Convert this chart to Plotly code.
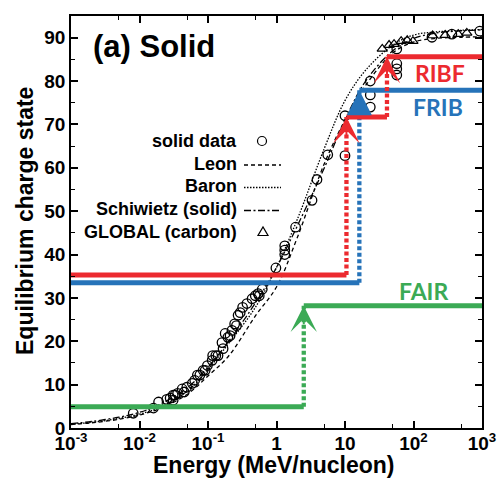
import numpy as np
import plotly.graph_objects as go

# ---------------- data ----------------
solid_E = [0.0081, 0.016, 0.019, 0.025, 0.031, 0.031, 0.036, 0.042, 0.049, 0.059,
           0.064, 0.076, 0.091, 0.098, 0.115, 0.117, 0.14, 0.166, 0.178, 0.195,
           0.224, 0.245, 0.275, 0.295, 0.32, 0.37, 0.44, 0.49, 0.54, 0.62,
           0.98, 1.32, 1.32, 1.32, 1.9, 3.3, 3.9, 5.6, 10.0, 10.0,
           23.4, 23.4, 23.4, 57, 57, 57, 57, 186, 363, 930,
           0.028, 0.033, 0.045, 0.07, 0.085, 0.13, 0.16, 0.21, 0.26, 0.56]
solid_Q = [3.4, 4.6, 6.0, 6.6, 6.4, 7.6, 8.0, 9.0, 9.4, 10.3,
           11.0, 12.2, 13.3, 14.4, 15.6, 16.7, 16.7, 18.3, 21.8, 20.9,
           22.5, 24.0, 26.0, 26.6, 27.8, 28.7, 29.8, 30.5, 31.0, 32.0,
           36.9, 40.0, 41.0, 42.0, 46.3, 52.5, 57.3, 63.0, 62.8, 72.0,
           74.0, 76.8, 80.0, 81.4, 82.8, 84.0, 87.4, 90.1, 90.8, 91.5,
           6.9, 7.6, 8.3, 12.2, 13.3, 16.7, 19.7, 21.3, 23.6, 30.5]

global_E = [35, 44, 52, 66, 81, 98, 190, 290, 450, 600]
global_Q = [87.4, 88.3, 88.5, 89.2, 89.4, 89.2, 90.5, 90.6, 90.8, 91.1]

curve_E = [0.001, 0.002, 0.005, 0.01, 0.02, 0.05, 0.1, 0.2, 0.5, 1, 2, 5,
           10, 20, 50, 100, 200, 500, 1000]
leon_Q = [0.8, 1.2, 2.0, 3.0, 4.5, 7.8, 12.0, 16.6, 26.0, 32.5, 43.8, 61.0,
          71.0, 79.0, 86.5, 89.0, 89.8, 90.1, 90.2]
baron_Q = [0.9, 1.3, 2.2, 3.2, 4.8, 8.5, 13.5, 19.5, 28.0, 37.0, 48.0, 64.5,
           75.5, 82.5, 88.3, 90.6, 91.3, 91.7, 91.9]
schiwietz_Q = [1.0, 1.5, 2.5, 3.6, 5.5, 9.3, 14.0, 20.0, 29.0, 37.0, 46.5, 60.0,
               71.0, 80.0, 87.0, 89.8, 91.0, 91.6, 91.8]

# facility staircases: energies of breaks and charge levels
RIBF_E = [0.001, 10.5, 41, 1000]
RIBF_Q = [35.3, 71.7, 85.6]
FRIB_E = [0.001, 16.2, 1000]
FRIB_Q = [33.5, 77.9]
FAIR_E = [0.001, 2.5, 1000]
FAIR_Q = [4.9, 28.2]

facility_names = ["RIBF", "FRIB", "FAIR"]
label_E = [244, 229, 141]
label_Q = [81.8, 74.0, 31.6]

x_tickvals = [1e-3, 1e-2, 1e-1, 1, 10, 100, 1000]
x_ticktext = ["10<sup>-3</sup>", "10<sup>-2</sup>", "10<sup>-1</sup>", "1", "10",
              "10<sup>2</sup>", "10<sup>3</sup>"]
x_minor = [0.005, 0.05, 0.5, 5, 50, 500]
y_tickvals = [0, 10, 20, 30, 40, 50, 60, 70, 80, 90]

legend_labels = ["solid data", "Leon", "Baron", "Schiwietz (solid)", "GLOBAL (carbon)"]

# ---------------- style ----------------
RED = "#EC2A2F"
BLUE = "#2673B9"
GREEN = "#3BAA55"
FONT = "Liberation Sans, Arial, sans-serif"
W, H = 499, 478
L, R, T, B = 71, 482, 16, 428


def pxx(x):
    return (x - L) / (R - L)


def pxy(y):
    return (B - y) / (B - T)


fig = go.Figure()

curve_styles = [(leon_Q, "4px,3px", 1.3), (baron_Q, "1.5px,1.5px", 1.3),
                (schiwietz_Q, "7px,2.5px,2px,2.5px", 1.3)]
for q, dash, w in curve_styles:
    fig.add_trace(go.Scatter(x=curve_E, y=q, mode="lines",
                             line=dict(color="black", width=w, dash=dash, shape="spline"),
                             showlegend=False, hoverinfo="skip"))

fig.add_trace(go.Scatter(x=solid_E, y=solid_Q, mode="markers",
                         marker=dict(symbol="circle-open", size=9.5, color="black",
                                     line=dict(width=1.3, color="black")),
                         showlegend=False))
fig.add_trace(go.Scatter(x=global_E, y=global_Q, mode="markers",
                         marker=dict(symbol="triangle-up-open", size=9, color="black",
                                     line=dict(width=1.2, color="black")),
                         showlegend=False))


def stair(E, Q, color, head, size):
    hx, hy, vx, vy = [], [], [], []
    for i, q in enumerate(Q):
        hx += [E[i], E[i + 1], None]
        hy += [q, q, None]
    for i in range(len(Q) - 1):
        vx += [E[i + 1], E[i + 1], None]
        vy += [Q[i], Q[i + 1], None]
    fig.add_trace(go.Scatter(x=vx, y=vy, mode="lines",
                             line=dict(color=color, width=4.3, dash="4px,2.5px"),
                             showlegend=False, hoverinfo="skip"))
    fig.add_trace(go.Scatter(x=hx, y=hy, mode="lines",
                             line=dict(color=color, width=5),
                             showlegend=False, hoverinfo="skip"))
    for i in range(len(Q) - 1):
        fig.add_annotation(x=np.log10(E[i + 1]), y=Q[i + 1], xref="x", yref="y",
                           ax=0, ay=20, showarrow=True, text="",
                           arrowhead=head, arrowsize=size, arrowwidth=2,
                           arrowcolor=color)


stair(FAIR_E, FAIR_Q, GREEN, 3, 2.2)
stair(FRIB_E, FRIB_Q, BLUE, 2, 2.5)
stair(RIBF_E, RIBF_Q, RED, 3, 2.2)

for name, e, q, c in zip(facility_names, label_E, label_Q, [RED, BLUE, GREEN]):
    fig.add_annotation(x=np.log10(e), y=q, xref="x", yref="y", text=name,
                       showarrow=False,
                       font=dict(family="Lato, Open Sans, sans-serif", size=23,
                                 color=c, weight="bold"))

# panel title
fig.add_annotation(x=pxx(91), y=pxy(47), xref="paper", yref="paper", text="(a) Solid",
                   showarrow=False, xanchor="left", yanchor="middle",
                   font=dict(family=FONT, size=31, color="black", weight="bold"))

# manual legend
leg_y = [141, 163.5, 186, 209, 231.5]
for lab, y in zip(legend_labels, leg_y):
    fig.add_annotation(x=pxx(239), y=pxy(y), xref="paper", yref="paper", text=lab,
                       showarrow=False, xanchor="right", yanchor="middle",
                       font=dict(family=FONT, size=18, color="black", weight="bold"))

shapes = []
shapes.append(dict(type="circle", xref="paper", yref="paper", xsizemode="pixel",
                   ysizemode="pixel", xanchor=pxx(262), yanchor=pxy(141),
                   x0=-4.5, x1=4.5, y0=-4.5, y1=4.5,
                   line=dict(color="black", width=1.2)))
for (y, dash) in [(165, "4px,3px"), (187.5, "1.5px,1.5px"), (210.5, "7px,2.5px,2px,2.5px")]:
    shapes.append(dict(type="line", xref="paper", yref="paper",
                       x0=pxx(244), x1=pxx(281), y0=pxy(y), y1=pxy(y),
                       line=dict(color="black", width=1.3, dash=dash)))
shapes.append(dict(type="path", xref="paper", yref="paper", xsizemode="pixel",
                   ysizemode="pixel", xanchor=pxx(263), yanchor=pxy(232),
                   path="M-5,-3.5 L5,-3.5 L0,5 Z",
                   line=dict(color="black", width=1.2)))

# axis titles
fig.add_annotation(x=pxx(274), y=pxy(465), xref="paper", yref="paper",
                   text="Energy (MeV/nucleon)", showarrow=False,
                   xanchor="center", yanchor="middle",
                   font=dict(family=FONT, size=23, color="black", weight="bold"))
fig.add_annotation(x=pxx(25), y=pxy(221), xref="paper", yref="paper",
                   text="Equilibrium charge state", showarrow=False, textangle=-90,
                   xanchor="center", yanchor="middle",
                   font=dict(family=FONT, size=23, color="black", weight="bold"))

axis_common = dict(showline=True, linecolor="black", linewidth=1.6, mirror="ticks",
                   ticks="inside", ticklen=7, tickwidth=1.5, tickcolor="black",
                   showgrid=False, zeroline=False, automargin=False,
                   tickfont=dict(family=FONT, size=19, color="black", weight="bold"))

fig.update_xaxes(type="log", range=[-3, 3], tickmode="array", tickvals=x_tickvals,
                 ticktext=x_ticktext, ticklabelstandoff=-3,
                 minor=dict(tickvals=x_minor, ticks="inside", ticklen=4,
                            tickwidth=1.3, tickcolor="black"),
                 **axis_common)
fig.update_yaxes(range=[0, 95], tickmode="array", tickvals=y_tickvals,
                 minor=dict(dtick=5, ticks="inside", ticklen=4, tickwidth=1.3,
                            tickcolor="black"),
                 **axis_common)

fig.update_layout(width=W, height=H, margin=dict(l=L, r=W - R, t=T, b=H - B),
                  paper_bgcolor="white", plot_bgcolor="white", shapes=shapes,
                  showlegend=False, font=dict(family=FONT, color="black"))

fig.write_html("out.html", config={"displayModeBar": False},
               post_script="document.body.style.margin='0';"
                           "document.documentElement.style.overflow='hidden';")
